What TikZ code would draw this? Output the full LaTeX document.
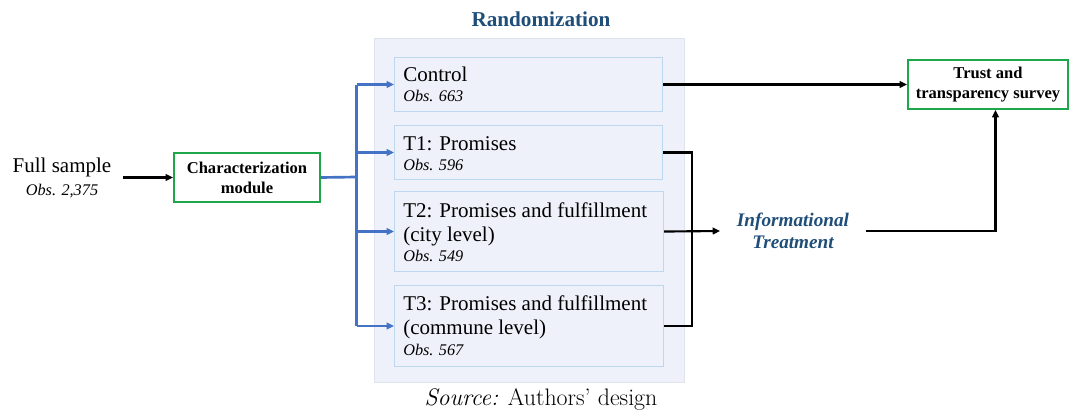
\documentclass[tikz,border=0pt]{standalone}
\usepackage{fontspec}
\newfontfamily\tnr{Liberation Serif}
\usetikzlibrary{arrows.meta,calc}

\definecolor{panelfill}{RGB}{238,241,249}
\definecolor{panelline}{RGB}{222,227,238}
\definecolor{boxline}{RGB}{189,215,238}
\definecolor{gbox}{RGB}{30,166,75}
\definecolor{flow}{RGB}{68,114,196}
\definecolor{navy}{RGB}{31,78,121}

\newcommand{\mainsz}{\fontsize{15.75}{18}\selectfont}
\newcommand{\obssz}{\fontsize{12.2}{15}\selectfont\itshape}

\tikzset{
  panel/.style={draw=panelline, fill=panelfill, line width=0.75pt, inner sep=0pt},
  armbox/.style={draw=boxline, fill=panelfill, line width=0.8pt, inner sep=0pt},
  greenbox/.style={draw=gbox, line width=1.5pt, fill=white, font=\tnr\bfseries\fontsize{12.4}{15}\selectfont, align=center, inner sep=0pt},
  armtext/.style={anchor=base west, align=left, inner sep=0pt, font=\tnr\mainsz},
  blk/.style={line width=1.6pt, black},
  blkarr/.style={blk, -{Triangle[length=5.5pt,width=5pt]}},
  bluearr/.style={line width=2pt, flow, -{Triangle[length=5.5pt,width=5pt]}},
  blueline/.style={line width=2pt, flow},
}

\begin{document}
\begin{tikzpicture}[x=0.75pt,y=-0.75pt]
\useasboundingbox (0,0) rectangle (1076,417);

% randomization panel and its title
\node[panel, minimum width=310*0.75pt, minimum height=344*0.75pt, anchor=north west] (rand) at (374,38) {};
\node[anchor=base, inner sep=0pt, text=navy, font=\tnr\bfseries\fontsize{15.9}{19}\selectfont] (randtitle) at (541,27) {Randomization};

% treatment arms
\node[armbox, minimum width=268*0.75pt, minimum height=54*0.75pt, anchor=north west] (ctrl) at (394,57) {};
\node[armbox, minimum width=268*0.75pt, minimum height=54*0.75pt, anchor=north west] (t1) at (394,125) {};
\node[armbox, minimum width=269*0.75pt, minimum height=80*0.75pt, anchor=north west] (t2) at (394,191) {};
\node[armbox, minimum width=269*0.75pt, minimum height=81*0.75pt, anchor=north west] (t3) at (394,285) {};

% arm labels (anchored on the baseline of their last line)
\node[armtext] (ctrltx) at ([shift={(9,44.7)}]ctrl.north west) {Control\\[-2.6pt]{\obssz Obs. 663}};
\node[armtext] (t1tx) at ([shift={(9,45.7)}]t1.north west) {T1: Promises\\[-2.6pt]{\obssz Obs. 596}};
\node[armtext] (t2tx) at ([shift={(9,70.7)}]t2.north west) {T2: Promises and fulfillment\\(city level)\\[-2.6pt]{\obssz Obs. 549}};
\node[armtext] (t3tx) at ([shift={(9,70.3)}]t3.north west) {T3: Promises and fulfillment\\(commune level)\\[-2.6pt]{\obssz Obs. 567}};

% sample and modules
\node[align=center, inner sep=0pt, font=\tnr\fontsize{15.75}{19.8}\selectfont, minimum width=122*0.75pt] (full) at (62,178) {Full sample\\[-3pt]{\obssz Obs. 2,375}};
\node[greenbox, minimum width=146*0.75pt, minimum height=49*0.75pt] (char) at (247,177.5) {Characterization\\module};
\node[greenbox, minimum width=160*0.75pt, minimum height=49*0.75pt] (trust) at (988,84.5) {Trust and\\transparency survey};
\node[align=center, inner xsep=12.5pt, inner ysep=0pt, text=navy, font=\tnr\bfseries\itshape\fontsize{14.4}{16.5}\selectfont] (info) at (793,231) {Informational\\Treatment};

% connectors
\coordinate (split) at (356.5,177);
\coordinate (merge) at (691.7,240);
\coordinate (rise) at (995.5,231);

\draw[blkarr] (full.east |- char.west) -- (char.west);
\draw[blueline] (char.east) -- (split);
\draw[blueline] (split |- ctrl.west) -- (split |- t3.west);
\draw[bluearr] (split |- ctrl.west) -- (ctrl.west);
\draw[bluearr] (split |- t1.west) -- (t1.west);
\draw[bluearr] (split |- t2.west) -- (t2.west);
\draw[bluearr] (split |- t3.west) -- (t3.west);

\draw[blkarr] (ctrl.east) -- (ctrl.east -| trust.west);
\draw[blk] (t1.east) -| (merge) |- (t3.east);
\draw[blkarr] (t2.east) -- (info.west);
\draw[blkarr] (info.east) -- (rise) -- (rise |- trust.south);

% source note
\node[anchor=base, inner sep=0pt, font=\fontsize{17.9}{21}\selectfont] (src) at (541,406) {\textit{Source:} Authors' design};
\end{tikzpicture}
\end{document}
